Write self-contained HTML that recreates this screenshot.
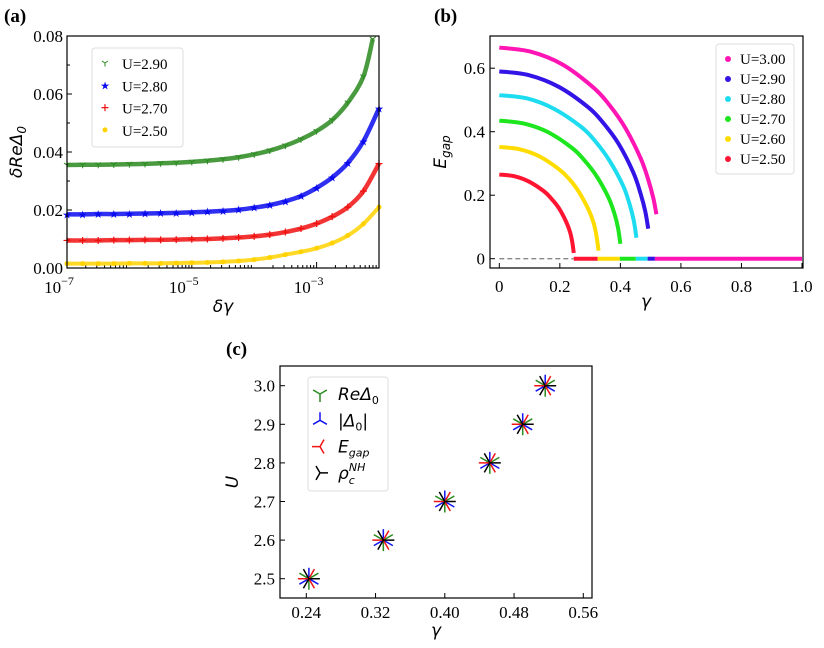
<!DOCTYPE html>
<html><head><meta charset="utf-8">
<style>
html,body{margin:0;padding:0;background:#fff;}
svg{display:block;}
.tk{font-family:"Liberation Serif",serif;font-size:17px;fill:#000;}
.lg{font-family:"Liberation Serif",serif;font-size:15px;fill:#000;}
.pl{font-family:"Liberation Serif",serif;font-size:19px;font-weight:bold;fill:#000;}
.mt{font-family:"DejaVu Sans",sans-serif;font-style:italic;font-size:17px;fill:#000;}
</style></head>
<body>
<svg id="fig" width="824" height="648" viewBox="0 0 824 648" xmlns="http://www.w3.org/2000/svg">
<g id="pa"></g>
<g id="pb"></g>
<g id="pc"></g>
</svg>
<script>
// ---------- Panel (a) data ----------
const aLogX = [-7,-6.75,-6.5,-6.25,-6,-5.75,-5.5,-5.25,-5,-4.75,-4.5,-4.25,-4,-3.75,-3.5,-3.25,-3,-2.75,-2.5,-2.25,-2];
const aLogXGreen = [-7,-6.75,-6.5,-6.25,-6,-5.75,-5.5,-5.25,-5,-4.75,-4.5,-4.25,-4,-3.75,-3.5,-3.25,-3,-2.75,-2.5,-2.25,-2.1];
const aU290 = [.0355,.0356,.0356,.0357,.0358,.0359,.0361,.0363,.0366,.0370,.0375,.0382,.0392,.0405,.0422,.0444,.0472,.0510,.0570,.0660,.0790];
const aU280 = [.0185,.0185,.0186,.0186,.0187,.0188,.0189,.0190,.0192,.0194,.0197,.0201,.0208,.0217,.0230,.0248,.0276,.0312,.0362,.0437,.0550];
const aU270 = [.0095,.0095,.0095,.0096,.0096,.0097,.0097,.0098,.0099,.0100,.0102,.0105,.0109,.0115,.0124,.0136,.0153,.0177,.0210,.0265,.0360];
const aU250 = [.0015,.0015,.0015,.0015,.0016,.0016,.0016,.0017,.0018,.0019,.0021,.0024,.0029,.0036,.0046,.0056,.0068,.0086,.0112,.0152,.0210];
const aYTicks = [0,0.02,0.04,0.06,0.08];
const aYTickLabels = ["0.00","0.02","0.04","0.06","0.08"];
const aXTicks = [-7,-5,-3];
const aXTickExp = ["−7","−5","−3"];
const aLegend = ["U=2.90","U=2.80","U=2.70","U=2.50"];

// ---------- Panel (b) data ----------
const bLabels = ["U=3.00","U=2.90","U=2.80","U=2.70","U=2.60","U=2.50"];
const bG300 = [0,.104,.208,.311,.363,.415,.467,.493,.509,.519];
const bE300 = [.665,.652,.612,.539,.485,.414,.316,.246,.190,.140];
const bG290 = [0,.098,.197,.295,.344,.394,.443,.467,.482,.492];
const bE290 = [.590,.578,.541,.476,.427,.362,.271,.204,.150,.0945];
const bG280 = [0,.091,.181,.272,.317,.362,.408,.430,.444,.453];
const bE280 = [.515,.505,.472,.414,.370,.312,.232,.173,.121,.066];
const bG270 = [0,.080,.160,.240,.280,.320,.360,.380,.392,.400];
const bE270 = [.435,.426,.399,.349,.311,.262,.194,.143,.098,.047];
const bG260 = [0,.066,.131,.197,.230,.262,.295,.312,.321,.328];
const bE260 = [.352,.345,.323,.282,.252,.212,.154,.111,.072,.025];
const bG250 = [0,.049,.098,.148,.172,.197,.221,.234,.241,.246];
const bE250 = [.265,.260,.243,.212,.189,.159,.116,.083,.053,.018];
const bZeroStart = [.514,.490,.451,.398,.325,.246];
const bZeroEnd = [1.0,.514,.490,.451,.398,.325];
const bXTicks = [0,0.2,0.4,0.6,0.8,1.0];
const bXTickLabels = ["0","0.2","0.4","0.6","0.8","1.0"];
const bYTicks = [0,0.2,0.4,0.6];
const bYTickLabels = ["0","0.2","0.4","0.6"];

// ---------- Panel (c) data ----------
const cU = [2.5,2.6,2.7,2.8,2.9,3.0];
const cGamma = [0.243,0.329,0.400,0.452,0.490,0.516];
const cXTicks = [0.24,0.32,0.40,0.48,0.56];
const cXTickLabels = ["0.24","0.32","0.40","0.48","0.56"];
const cYTicks = [2.5,2.6,2.7,2.8,2.9,3.0];
const cYTickLabels = ["2.5","2.6","2.7","2.8","2.9","3.0"];

const NS="http://www.w3.org/2000/svg";
function mk(parent,tag,attrs,text){const e=document.createElementNS(NS,tag);for(const k in attrs)e.setAttribute(k,attrs[k]);if(text!==undefined)e.textContent=text;parent.appendChild(e);return e;}
// smooth path through points (Catmull-Rom -> Bezier)
function smooth(P){let d=`M${P[0][0]} ${P[0][1]}`;
  for(let i=0;i<P.length-1;i++){const p0=P[i-1]||P[i],p1=P[i],p2=P[i+1],p3=P[i+2]||p2;
    const c1=[p1[0]+(p2[0]-p0[0])/6,p1[1]+(p2[1]-p0[1])/6],c2=[p2[0]-(p3[0]-p1[0])/6,p2[1]-(p3[1]-p1[1])/6];
    d+=`C${c1[0]} ${c1[1]} ${c2[0]} ${c2[1]} ${p2[0]} ${p2[1]}`;}
  return d;}

// ===== Panel A =====
(function(){
const g=document.getElementById('pa');
const L=67,R=379,T=36,B=268;
const xs=v=>L+(v+7)/5*(R-L);
const ys=v=>B-v/0.08*(B-T);
let t=mk(g,'text',{x:4,y:22,class:'pl'},'(a)');


aYTicks.forEach((v,i)=>{
  mk(g,'line',{x1:L,x2:L+5,y1:ys(v),y2:ys(v),stroke:'#000'});
  const e=mk(g,'text',{x:L-4,y:ys(v)+6,'text-anchor':'end',class:'tk'},aYTickLabels[i]);
  
  
});
for(let v=0.01;v<0.08;v+=0.02){mk(g,'line',{x1:L,x2:L+3,y1:ys(v),y2:ys(v),stroke:'#000'});}
for(let d=-7;d<-2;d++){for(let k=2;k<10;k++){const x=xs(d+Math.log10(k));mk(g,'line',{x1:x,x2:x,y1:B,y2:B-3,stroke:'#000'});}}
aXTicks.forEach((v,i)=>{
  mk(g,'line',{x1:xs(v),x2:xs(v),y1:B,y2:B-6,stroke:'#000'});
  const e=mk(g,'text',{x:xs(v)-8,y:B+25,'text-anchor':'middle',class:'tk'});
  
  
  e.innerHTML='10<tspan dy="-8" font-size="12">'+aXTickExp[i]+'</tspan>';
});
const series=[[aLogXGreen,aU290,'#2a8a1f','tri'],[aLogX,aU280,'#0a0af0','star'],[aLogX,aU270,'#f01010','plus'],[aLogX,aU250,'#ffd200','dot']];
function marker(p,type,x,y,c){
  if(type==='tri'){mk(p,'path',{d:`M${x} ${y}v3.5M${x} ${y}l-3 -2M${x} ${y}l3 -2`,stroke:c,'stroke-width':1,fill:'none'});}
  else if(type==='star'){mk(p,'text',{x:x,y:y+4,'text-anchor':'middle','font-size':'11px',fill:c,'font-family':'DejaVu Sans'},'★');}
  else if(type==='plus'){mk(p,'path',{d:`M${x-3.5} ${y}h7M${x} ${y-3.5}v7`,stroke:c,'stroke-width':1.2});}
  else {mk(p,'circle',{cx:x,cy:y,r:2.5,fill:c});}
}
series.forEach((s,si)=>{
  const sg=mk(g,'g',{});
  
  
  const P=s[0].map((v,i)=>[xs(v),ys(s[1][i])]);
  mk(sg,'path',{d:smooth(P),fill:'none',stroke:s[2],'stroke-width':s[3]==='dot'?4:4.5,opacity:0.85});
  s[0].forEach((v,i)=>{marker(sg,s[3],xs(v),ys(s[1][i]),s[2]);});
});
mk(g,'rect',{x:L,y:T,width:R-L,height:B-T,fill:'none',stroke:'#000','stroke-width':1.2});
const lg=mk(g,'g',{});


mk(lg,'rect',{x:92,y:48,width:91,height:99,rx:3,fill:'#fff',stroke:'#ddd'});
aLegend.forEach((l,i)=>{const y=63+i*22.3;marker(lg,series[i][3],105,y,series[i][2]);
  const e=mk(lg,'text',{x:122,y:y+6,class:'lg'},l);
  
  });
let xt=mk(g,'text',{x:223,y:312,'text-anchor':'middle',class:'mt'},'δγ');


let yt=mk(g,'text',{x:0,y:0,'text-anchor':'middle',class:'mt',transform:'translate(22,152) rotate(-90)'});
yt.innerHTML='δReΔ<tspan dy="4" font-size="12">0</tspan>';


})();

// ===== Panel B =====
(function(){
const g=document.getElementById('pb');
const L=490,R=803,T=36,B=268;
const xs=v=>499.3+v*302.7;
const ys=v=>258.7-v/0.2*63.5;
let t=mk(g,'text',{x:434,y:22,class:'pl'},'(b)');


bXTicks.forEach((v,i)=>{mk(g,'line',{x1:xs(v),x2:xs(v),y1:B,y2:B-5,stroke:'#000'});
  const e=mk(g,'text',{x:xs(v),y:B+24,'text-anchor':'middle',class:'tk'},bXTickLabels[i]);
  
  });
bYTicks.forEach((v,i)=>{mk(g,'line',{x1:L,x2:L+5,y1:ys(v),y2:ys(v),stroke:'#000'});
  const e=mk(g,'text',{x:L-5,y:ys(v)+6,'text-anchor':'end',class:'tk'},bYTickLabels[i]);
  
  });
const cols=['#ff14b4','#3314e6','#1edcf0','#1ee61e','#ffdc00','#ff1432'];
const Gs=[bG300,bG290,bG280,bG270,bG260,bG250], Es=[bE300,bE290,bE280,bE270,bE260,bE250];
mk(g,'line',{x1:xs(0),x2:xs(bZeroStart[5]),y1:ys(0),y2:ys(0),stroke:'#888','stroke-width':1.3,'stroke-dasharray':'5,3'});
for(let i=5;i>=0;i--){
  const sg=mk(g,'g',{});
  
  
  const P=Gs[i].map((v,k)=>[xs(v),ys(Es[i][k])]);
  mk(sg,'path',{d:smooth(P),fill:'none',stroke:cols[i],'stroke-width':4,'stroke-linejoin':'round'});
  mk(sg,'line',{x1:xs(bZeroStart[i]),x2:xs(bZeroEnd[i]),y1:ys(0),y2:ys(0),stroke:cols[i],'stroke-width':4});
}
mk(g,'rect',{x:L,y:T,width:R-L,height:B-T,fill:'none',stroke:'#000','stroke-width':1.2});
const lg=mk(g,'g',{});


mk(lg,'rect',{x:716,y:44,width:78,height:130,rx:3,fill:'#fff',stroke:'#ddd'});
bLabels.forEach((l,i)=>{const y=59+i*20;mk(lg,'circle',{cx:728,cy:y,r:3,fill:cols[i]});
  const e=mk(lg,'text',{x:740,y:y+5,class:'lg'},l);
  
  });
let xt=mk(g,'text',{x:646,y:307,'text-anchor':'middle',class:'mt'},'γ');


let yt=mk(g,'text',{x:0,y:0,'text-anchor':'middle',class:'mt',transform:'translate(446,152) rotate(-90)'});
yt.innerHTML='E<tspan dy="4" font-size="12">gap</tspan>';


})();

// ===== Panel C =====
(function(){
const g=document.getElementById('pc');
const L=280,R=592,T=366,B=598;
const xs=v=>306.3+(v-0.24)/0.08*69.25;
const ys=v=>578.7-(v-2.5)/0.1*38.6;
let t=mk(g,'text',{x:226,y:355,class:'pl'},'(c)');


cXTicks.forEach((v,i)=>{mk(g,'line',{x1:xs(v),x2:xs(v),y1:B,y2:B-5,stroke:'#000'});
  const e=mk(g,'text',{x:xs(v),y:B+20,'text-anchor':'middle',class:'tk'},cXTickLabels[i]);
  
  });
cYTicks.forEach((v,i)=>{mk(g,'line',{x1:L,x2:L+5,y1:ys(v),y2:ys(v),stroke:'#000'});
  const e=mk(g,'text',{x:L-5,y:ys(v)+6,'text-anchor':'end',class:'tk'},cYTickLabels[i]);
  
  });
function tri(p,x,y,c,rot,s){const a=[0,120,240].map(d=>(d+rot)*Math.PI/180);
  mk(p,'path',{d:a.map(r=>`M${x} ${y}L${x+s*Math.sin(r)} ${y+s*Math.cos(r)}`).join(''),stroke:c,'stroke-width':1.5,fill:'none'});}
const mcol=['#2a8a1f','#1414f0','#f01414','#000'];
const mrot=[0,180,270,90];
const mset=['re-delta','abs-delta','e-gap','rho'];
mset.forEach((n,j)=>{
  const sg=mk(g,'g',{});
  
  
  cU.forEach((u,i)=>tri(sg,xs(cGamma[i]),ys(u),mcol[j],mrot[j],11));
});
mk(g,'rect',{x:L,y:T,width:R-L,height:B-T,fill:'none',stroke:'#000','stroke-width':1.2});
const lg=mk(g,'g',{});


mk(lg,'rect',{x:308,y:377,width:80,height:114,rx:3,fill:'#fff',stroke:'#ddd'});
const lbl=['ReΔ<tspan dy="4" font-size="11" font-style="normal">0</tspan>','|Δ<tspan dy="4" font-size="11" font-style="normal">0</tspan><tspan dy="-4">|</tspan>','E<tspan dy="4" font-size="11">gap</tspan>','ρ<tspan dy="5" font-size="11">c</tspan><tspan dx="-6" dy="-13" font-size="11">NH</tspan>'];
lbl.forEach((l,i)=>{const y=394+i*26.3;tri(lg,320,y,mcol[i],mrot[i],8);
  const e=mk(lg,'text',{x:338,y:y+6,class:'mt','font-size':'16px'});e.innerHTML=l;
  
  });
let xt=mk(g,'text',{x:436,y:636,'text-anchor':'middle',class:'mt'},'γ');


let yt=mk(g,'text',{x:0,y:0,'text-anchor':'middle',class:'mt',transform:'translate(238,482) rotate(-90)'},'U');


})();
</script>
</body></html>
